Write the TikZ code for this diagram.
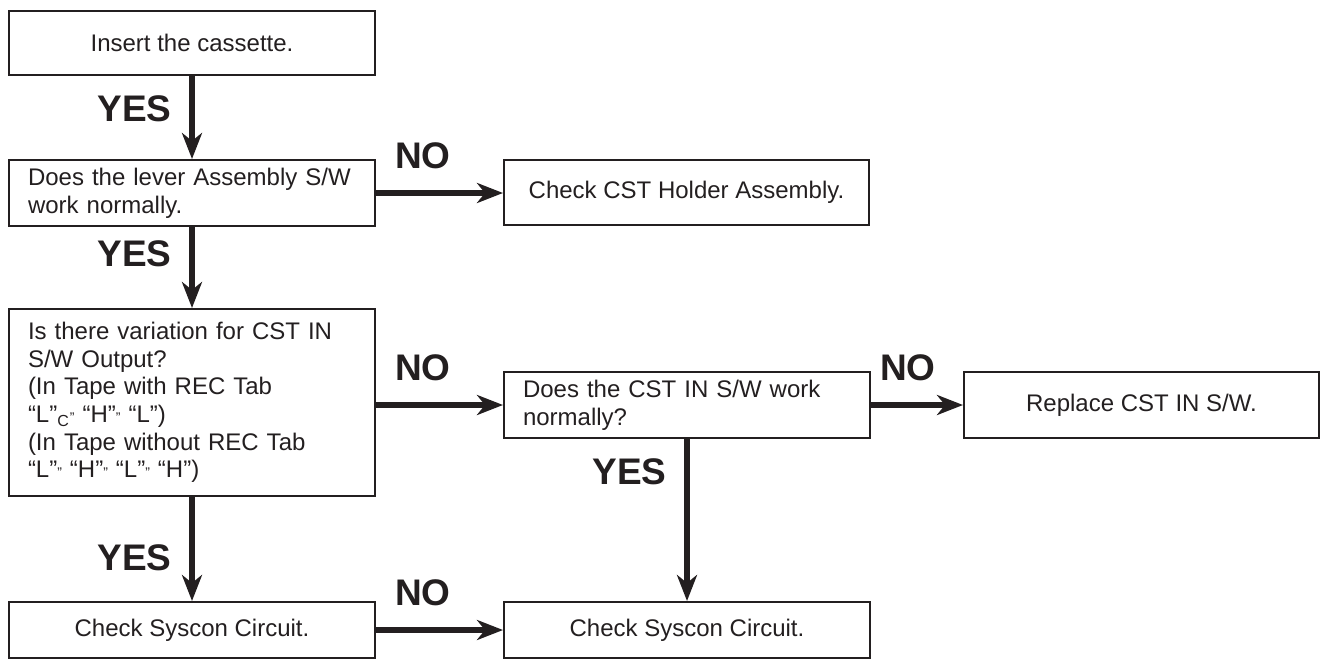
\documentclass[tikz,border=0pt]{standalone}
\usepackage{fontspec}
\setmainfont{Liberation Sans}
\usetikzlibrary{arrows.meta}
\definecolor{ink}{HTML}{231F20}
\begin{document}
\begin{tikzpicture}[x=0.5pt,y=-0.5pt,>={Stealth[length=13pt,width=10pt,inset=4pt]},color=ink,
  box/.style={draw,line width=1pt,inner sep=0pt,anchor=north west,minimum width=183pt,font=\fontsize{12}{13.8}\selectfont},
  boxl/.style={box,align=left,text width=164pt,inner xsep=9.5pt},
  flow/.style={->,line width=2.6pt},
  yes/.style={left=9pt,inner sep=0pt,font=\fontsize{18.5}{18.5}\selectfont\bfseries},
  no/.style={above=11pt,inner sep=0pt,font=\fontsize{18.5}{18.5}\selectfont\bfseries}]
  \useasboundingbox (0,0) rectangle (1325,664);
  \node[box,minimum height=32pt] (insert) at (8,10) {Insert the cassette.};
  \node[boxl,minimum height=33pt] (lever) at (8,159) {Does the lever Assembly S/W\\work normally.};
  \node[box,minimum width=182.5pt,minimum height=32.5pt] (holder) at (503,159) {Check CST Holder Assembly.};
  \node[boxl,minimum height=93.5pt] (vary) at (8,308) {Is there variation for CST IN\\S/W Output?\\(In Tape with REC Tab\\“L”\textsubscript{C}{\scriptsize"} “H”{\scriptsize"} “L”)\\(In Tape without REC Tab\\“L”{\scriptsize"} “H”{\scriptsize"} “L”{\scriptsize"} “H”)};
  \node[boxl,minimum height=33pt] (cstin) at (503,371) {Does the CST IN S/W work\\normally?};
  \node[box,minimum width=177.5pt,minimum height=33pt] (replace) at (963,371) {Replace CST IN S/W.};
  \node[box,minimum height=28pt] (sysA) at (8,601) {Check Syscon Circuit.};
  \node[box,minimum height=28pt] (sysB) at (503,601) {Check Syscon Circuit.};
  \draw[flow] (insert) -- node[yes,pos=0.39]{YES} (lever);
  \draw[flow] (lever) -- node[yes,pos=0.33]{YES} (vary);
  \draw[flow] (vary) -- node[yes,pos=0.58]{YES} (sysA);
  \draw[flow] (cstin) -- node[yes,pos=0.2]{YES} (sysB);
  \draw[flow] (lever.east) -- node[no,pos=0.37]{NO} (lever.east -| holder.west);
  \draw[flow] (vary.east |- cstin.west) -- node[no,pos=0.37]{NO} (cstin.west);
  \draw[flow] (cstin.east) -- node[no,pos=0.4]{NO} (replace.west);
  \draw[flow] (sysA.east) -- node[no,pos=0.37]{NO} (sysB.west);
\end{tikzpicture}
\end{document}
